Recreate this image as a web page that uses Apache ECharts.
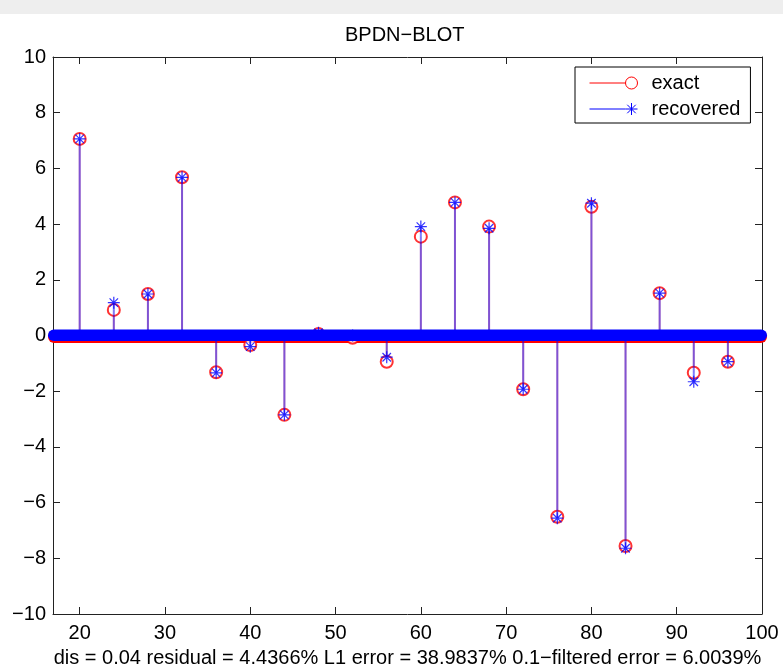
<!DOCTYPE html>
<html>
<head>
<meta charset="utf-8">
<script src="https://cdn.jsdelivr.net/npm/echarts@6/dist/echarts.min.js"></script>
<style>
html,body{margin:0;padding:0;background:#fff;}
#chart{width:783px;height:670px;}
</style>
</head>
<body>
<div id="chart"></div>
<script>
// ---- data ----
const stemX = [20, 24, 28, 32, 36, 40, 44, 48, 52, 56, 60, 64, 68, 72, 76, 80, 84, 88, 92, 96];
const exactValues = [7.06, 0.92, 1.49, 5.68, -1.32, -0.34, -2.85, 0.05, -0.08, -0.94, 3.55, 4.78, 3.91, -1.93, -6.51, 4.62, -7.56, 1.52, -1.34, -0.94];
const recoveredValues = [7.06, 1.18, 1.49, 5.68, -1.34, -0.40, -2.85, 0.10, 0.00, -0.78, 3.91, 4.78, 3.85, -1.93, -6.56, 4.75, -7.64, 1.52, -1.66, -0.94];
const baselineRange = [16.87, 100]; // dense zero-valued samples along the whole grid
const xTicks = [20, 30, 40, 50, 60, 70, 80, 90, 100];
const yTicks = [-10, -8, -6, -4, -2, 0, 2, 4, 6, 8, 10];
const titleText = 'BPDN\u2212BLOT';
const xLabelText = 'dis = 0.04 residual = 4.4366% L1 error = 38.9837% 0.1\u2212filtered error = 6.0039%';

const FONT = 'Liberation Sans';
const exactPts = stemX.map((x, i) => [x, exactValues[i]]);
const recPts = stemX.map((x, i) => [x, recoveredValues[i]]);
const basePts = [[baselineRange[0], baselineRange[1], 0]];

const starPath = 'path://M6,0L6,12M0,6L12,6M1.76,1.76L10.24,10.24M1.76,10.24L10.24,1.76';
const legendExactIcon = 'path://M0,6L36,6M36,6A6,6,0,1,0,48,6A6,6,0,1,0,36,6';
const legendRecIcon = 'path://M0,6L36,6M42,0L42,12M36,6L48,6M37.76,1.76L46.24,10.24M37.76,10.24L46.24,1.76';

const minusFmt = v => (v < 0 ? '\u2212' + Math.abs(v) : String(v));

function stemRender(color, opacity) {
  return function (params, api) {
    const p0 = api.coord([api.value(0), 0]);
    const p1 = api.coord([api.value(0), api.value(1)]);
    return {
      type: 'line',
      shape: { x1: p0[0], y1: p0[1], x2: p1[0], y2: p1[1] },
      style: { stroke: color, lineWidth: 2, opacity: opacity }
    };
  };
}
function bandRender(color, up, down) {
  return function (params, api) {
    const a = api.coord([api.value(0), api.value(2)]);
    const b = api.coord([api.value(1), api.value(2)]);
    const h = up + down;
    return {
      type: 'rect',
      shape: { x: a[0] - 5, y: a[1] - up, width: b[0] - a[0] + 10, height: h, r: h / 2 },
      style: { fill: color }
    };
  };
}

const chart = echarts.init(document.getElementById('chart'), null, { renderer: 'canvas' });
const axisLineStyle = { show: true, onZero: false, lineStyle: { color: '#222', width: 1 } };
chart.setOption({
  animation: false,
  backgroundColor: '#ffffff',
  graphic: [{ type: 'rect', shape: { x: 0, y: 0, width: 783, height: 14 }, style: { fill: '#eeeeee' }, z: -10 }],
  title: {
    text: titleText, left: 345, top: 25, padding: 0,
    textStyle: { fontFamily: FONT, fontSize: 20, fontWeight: 'normal', color: '#000' }
  },
  legend: {
    left: 575, top: 67, orient: 'vertical',
    padding: [6, 10, 4, 12],
    itemWidth: 48, itemHeight: 12, itemGap: 6,
    backgroundColor: '#fff', borderColor: '#000', borderWidth: 1, borderRadius: 0,
    textStyle: { fontFamily: FONT, fontSize: 20, color: '#000', padding: [0, 0, 0, 9] },
    selectedMode: false,
    data: [
      { name: 'exact', icon: legendExactIcon, itemStyle: { color: 'none', borderColor: '#ff0000', borderWidth: 1 } },
      { name: 'recovered', icon: legendRecIcon, itemStyle: { color: 'none', borderColor: '#0000ff', borderWidth: 1 } }
    ]
  },
  grid: { left: 53, right: 21, top: 57, bottom: 56, containLabel: false, outerBoundsMode: 'none' },
  xAxis: [
    {
      type: 'value', position: 'bottom', min: baselineRange[0], max: baselineRange[1],
      axisLine: axisLineStyle,
      axisTick: { show: true, inside: true, length: 7, customValues: xTicks, lineStyle: { color: '#222' } },
      splitLine: { show: false },
      axisLabel: { margin: 9, fontFamily: FONT, fontSize: 20, color: '#000', customValues: xTicks },
      name: xLabelText, nameLocation: 'middle', nameGap: 34,
      nameTextStyle: { fontFamily: FONT, fontSize: 20, color: '#000' }
    },
    {
      type: 'value', position: 'top', min: baselineRange[0], max: baselineRange[1],
      axisLine: axisLineStyle,
      axisTick: { show: true, inside: true, length: 7, customValues: xTicks, lineStyle: { color: '#222' } },
      splitLine: { show: false },
      axisLabel: { show: false }
    }
  ],
  yAxis: [
    {
      type: 'value', position: 'left', min: yTicks[0], max: yTicks[yTicks.length - 1], interval: 2,
      axisLine: axisLineStyle,
      axisTick: { show: true, inside: true, length: 7, lineStyle: { color: '#222' } },
      splitLine: { show: false },
      axisLabel: { margin: 7, fontFamily: FONT, fontSize: 20, color: '#000', formatter: minusFmt }
    },
    {
      type: 'value', position: 'right', min: yTicks[0], max: yTicks[yTicks.length - 1], interval: 2,
      axisLine: axisLineStyle,
      axisTick: { show: true, inside: true, length: 7, lineStyle: { color: '#222' } },
      splitLine: { show: false },
      axisLabel: { show: false }
    }
  ],
  series: [
    { name: 'exact', type: 'custom', z: 1, renderItem: stemRender('#ff0000', 0.35), data: exactPts, clip: false },
    { name: 'exact', type: 'custom', z: 2, renderItem: bandRender('#ff0000', 5, 7.5), data: basePts, clip: false },
    { name: 'exact', type: 'scatter', z: 3, data: exactPts, symbol: 'emptyCircle', symbolSize: 12,
      itemStyle: { color: '#ff0000', borderColor: '#ff0000', borderWidth: 1 } },
    { name: 'recovered', type: 'custom', z: 4, renderItem: stemRender('#0000ff', 0.5), data: recPts, clip: false },
    { name: 'recovered', type: 'custom', z: 5, renderItem: bandRender('#0000ff', 6, 5.5), data: basePts, clip: false },
    { name: 'recovered', type: 'scatter', z: 6, data: recPts, symbol: starPath, symbolSize: 12,
      itemStyle: { color: 'none', borderColor: '#0000ff', borderWidth: 1.2 } }
  ]
});
</script>
</body>
</html>
